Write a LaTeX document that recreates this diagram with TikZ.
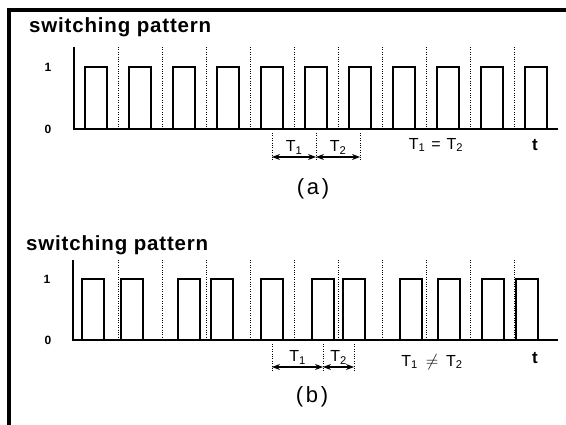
\documentclass[tikz,border=0pt]{standalone}
\usepackage{fontspec}
\setmainfont{Liberation Sans}
\newfontfamily\ttlfont[LetterSpace=4]{Liberation Sans}
\newfontfamily\capfont[LetterSpace=12]{Liberation Sans}
\usetikzlibrary{arrows.meta}

\begin{document}
\begin{tikzpicture}[
    x=1pt, y=-1pt,
    sig/.style={line width=1.6pt, line join=miter},
    grid/.style={line width=1pt, dash pattern=on 1pt off 1.4pt},
    dim/.style={{Stealth[length=8pt,width=6pt]}-{Stealth[length=8pt,width=6pt]}, line width=1.2pt},
    ttl/.style={font=\ttlfont\bfseries\fontsize{20.5}{24}\selectfont, anchor=west, inner sep=0pt},
    lvl/.style={font=\bfseries\fontsize{12}{14}\selectfont},
    per/.style={font=\fontsize{16}{19}\selectfont},
    tlbl/.style={font=\bfseries\fontsize{17}{20}\selectfont},
    captxt/.style={font=\capfont\fontsize{22}{26}\selectfont},
]
\useasboundingbox (0,0) rectangle (566,425);

% Frame
\draw[line width=4pt] (9,425) -- (9,10) -- (566,10);

% (a) equal periods
\node[ttl] (ttlA) at (29,27) {switching pattern};
\node[lvl] (oneA)  at (48,67)  {1};
\node[lvl] (zeroA) at (48,129) {0};
\draw[sig] (74,47) -- (74,129) -- (558,129);
\foreach \x in {118,162,...,514} \draw[grid] (\x,47) -- (\x,129);
\foreach \x in {85,129,...,525} \draw[sig] (\x,129) |- (\x+22,67) -- (\x+22,129);

\coordinate (pa1) at (272,157);
\coordinate (pa2) at (316,157);
\coordinate (pa3) at (360,157);
\foreach \c in {pa1,pa2,pa3} \draw[grid] (\c) ++(0,-24) -- ++(0,28);
\draw[dim] (pa1) -- node[per, above=-1pt] (t1A) {T\textsubscript{1}} (pa2);
\draw[dim] (pa2) -- node[per, above=-1pt] (t2A) {T\textsubscript{2}} (pa3);

\node[per]    (eqA)  at (436,145) {T\textsubscript{1}\hspace{6pt}=\hspace{6pt}T\textsubscript{2}};
\node[tlbl]   (tA)   at (535,145) {t};
\node[captxt] (capA) at (313,189) {(a)};

% (b) unequal periods
\node[ttl] (ttlB) at (26,245) {switching pattern};
\node[lvl] (oneB)  at (47,279) {1};
\node[lvl] (zeroB) at (48,340) {0};
\draw[sig] (73,260) -- (73,340) -- (558,340);
\foreach \x in {118,162,...,514} \draw[grid] (\x,260) -- (\x,340);
\foreach \x in {82,121,178,211,261,312,343,400,438,482,516}
    \draw[sig] (\x,340) |- (\x+22,279) -- (\x+22,340);

\coordinate (pb1) at (272,367);
\coordinate (pb2) at (323,367);
\coordinate (pb3) at (354,367);
\foreach \c in {pb1,pb2,pb3} \draw[grid] (\c) ++(0,-23) -- ++(0,28);
\draw[dim] (pb1) -- node[per, above=-1pt] (t1B) {T\textsubscript{1}} (pb2);
\draw[dim] (pb2) -- node[per, above=-1pt] (t2B) {T\textsubscript{2}} (pb3);

\node[per]    (neB)  at (432,362) {T\textsubscript{1}\hspace{8pt}$\neq$\hspace{8pt}T\textsubscript{2}};
\node[tlbl]   (tB)   at (535,358) {t};
\node[captxt] (capB) at (312,397) {(b)};
\end{tikzpicture}
\end{document}
